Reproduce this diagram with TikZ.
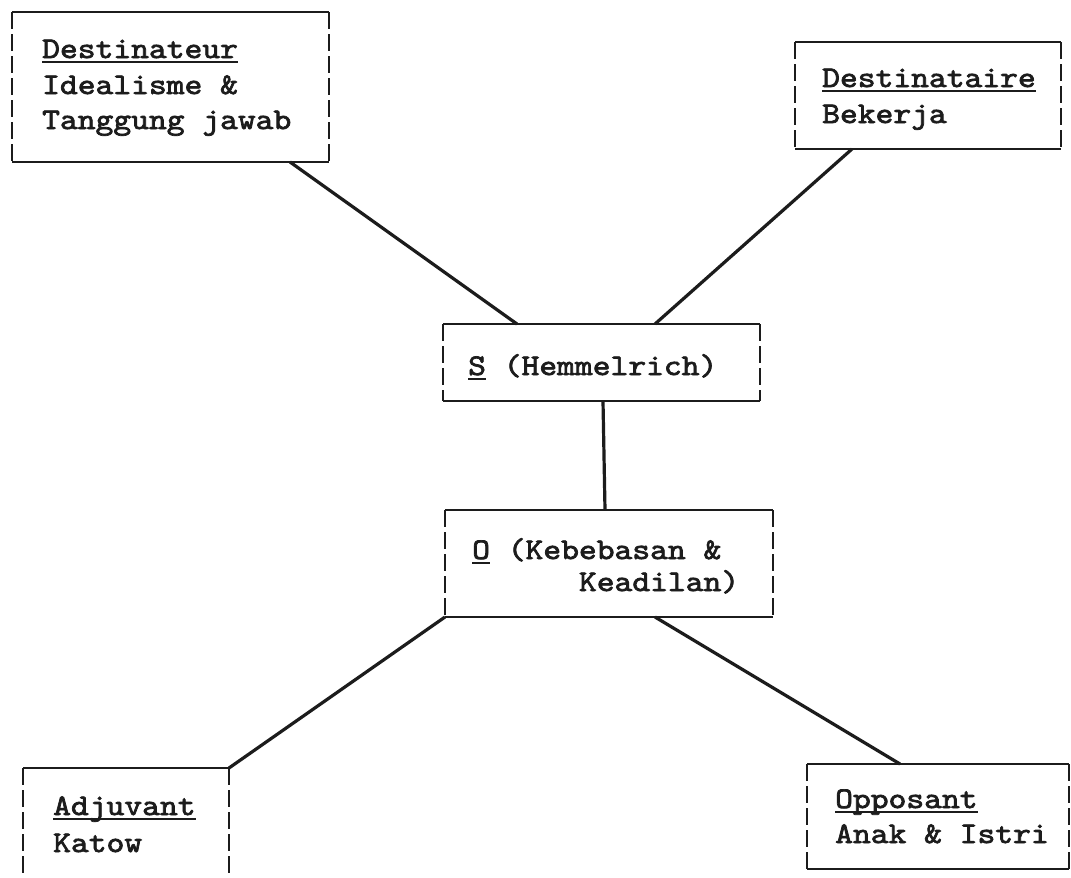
\documentclass[tikz,border=0pt]{standalone}
\usepackage{fontspec}
\usetikzlibrary{calc}
% typewriter face: slab-serif mono, widened and inked a little heavier
\newfontfamily\typewriter{lmmono10-regular.otf}[FakeStretch=1.13,FakeBold=2.4]
\definecolor{ink}{HTML}{1C1C1C}
% underline drawn a fixed distance under the baseline
\newcommand\typeul[1]{\setbox0\hbox{#1}\rlap{\rule[-4.5pt]{\wd0}{1.7pt}}\box0\relax}
% frame of a typed box: solid top/bottom rules, dashed "|" sides
\newcommand\typedframe[1]{%
  \draw[rulesolid] (#1.north west) -- (#1.north east);
  \draw[rulesolid] (#1.south west) -- (#1.south east);
  \draw[ruleside] (#1.north west) -- (#1.south west);
  \draw[ruleside] (#1.north east) -- (#1.south east);}
\begin{document}
\begin{tikzpicture}[x=1pt,y=-1pt,
  frame/.style={draw=none,inner sep=0pt,outer sep=0pt},
  rulesolid/.style={draw=ink,line width=2.3pt},
  ruleside/.style={draw=ink,line width=2.2pt,dash pattern=on 17pt off 5pt},
  txt/.style={anchor=base west,inner sep=0pt,text=ink,
    font=\typewriter\fontsize{30}{35}\selectfont},
  link/.style={draw=ink,line width=3.2pt}]
\useasboundingbox[fill=white] (0,0) rectangle (1071,878);
\clip (0,0) rectangle (1071,878);

% boxes
\node[frame,minimum width=317pt,minimum height=150pt] (dest) at (170.5,87) {};
\node[frame,minimum width=266pt,minimum height=107pt] (dsta) at (928,95.5) {};
\node[frame,minimum width=317pt,minimum height=77pt]  (subj) at (601.5,362.5) {};
\node[frame,minimum width=328pt,minimum height=107pt] (obj)  at (609,563.5) {};
\node[frame,minimum width=206pt,minimum height=130pt] (adj)  at (126,833) {};
\node[frame,minimum width=262pt,minimum height=105pt] (opp)  at (938,816.5) {};
\typedframe{dest}
\typedframe{dsta}
\typedframe{subj}
\typedframe{obj}
\typedframe{adj}
\typedframe{opp}

% texts
\node[txt] (dest1) at (42,58)  {\typeul{Destinateur}};
\node[txt] (dest2) at (42,94)  {Idealisme \&};
\node[txt] (dest3) at (42,129) {Tanggung jawab};
\node[txt] (dsta1) at (822,87)  {\typeul{Destinataire}};
\node[txt] (dsta2) at (822,123) {Bekerja};
\node[txt] (subj1) at (468,375) {\typeul{S} (Hemmelrich)};
\node[txt] (obj1)  at (472,559) {\typeul{O} (Kebebasan \&};
\node[txt] (obj2)  at (578.8,591) {Keadilan)};
\node[txt] (adj1)  at (53,815) {\typeul{Adjuvant}};
\node[txt] (adj2)  at (53,852) {Katow};
\node[txt] (opp1)  at (835,808) {\typeul{Opposant}};
\node[txt] (opp2)  at (835,843) {Anak \& Istri};

% connectors
\draw[link] ([xshift=278pt]dest.south west) -- ([xshift=74pt]subj.north west);
\draw[link] ([xshift=57pt]dsta.south west) -- ([xshift=212pt]subj.north west);
\draw[link] ([xshift=160pt]subj.south west) -- ([xshift=160pt]obj.north west);
\draw[link] (obj.south west) -- (adj.north east);
\draw[link] ([xshift=210pt]obj.south west) -- ([xshift=93pt]opp.north west);
\end{tikzpicture}
\end{document}
